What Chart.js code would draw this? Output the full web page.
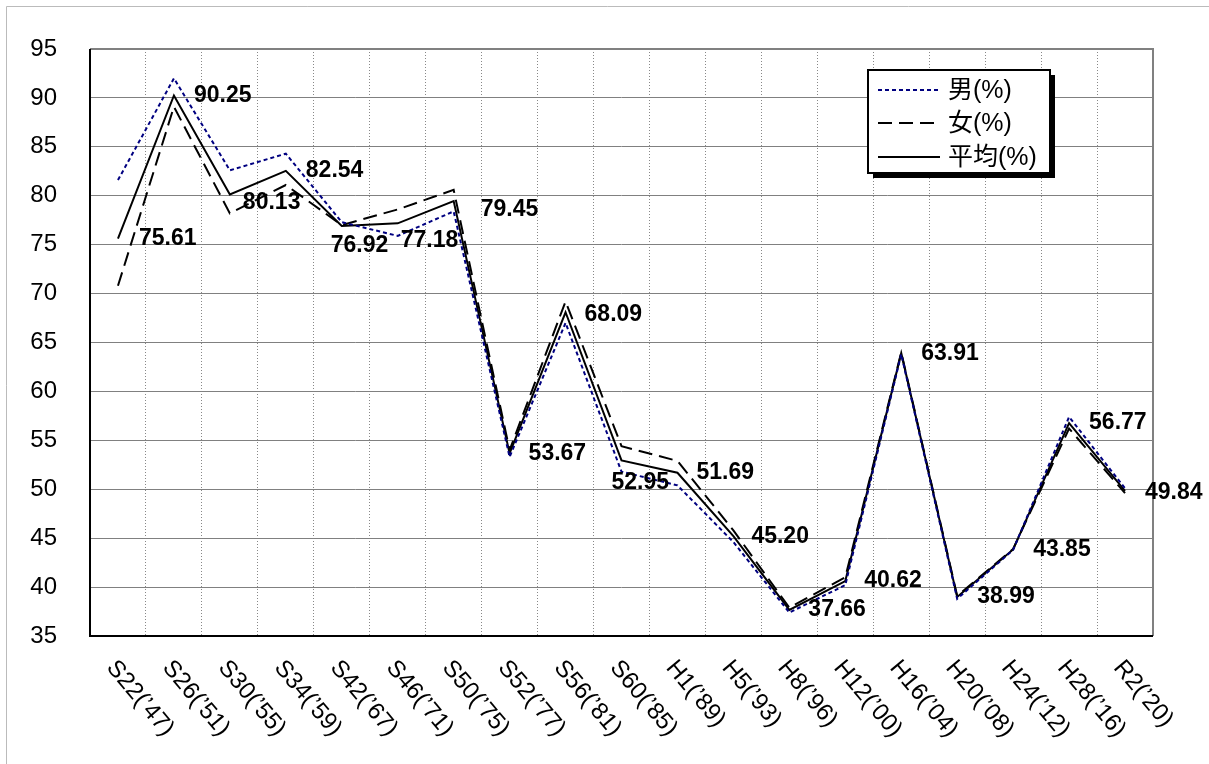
<!DOCTYPE html>
<html><head><meta charset="utf-8">
<script src="https://cdn.jsdelivr.net/npm/chart.js@4.4.0/dist/chart.umd.min.js"></script>
<style>html,body{margin:0;padding:0;background:#fff;}#wrap{width:1209px;height:764px;position:relative;}</style>
</head><body><div id="wrap"><canvas id="c" width="1209" height="764"></canvas></div>
<script>
const categories = ["S22(’47)","S26(’51)","S30(’55)","S34(’59)","S42(’67)","S46(’71)","S50(’75)","S52(’77)","S56(’81)","S60(’85)","H1(’89)","H5(’93)","H8(’96)","H12(’00)","H16(’04)","H20(’08)","H24(’12)","H28(’16)","R2(’20)"];
const maleValues = [81.6, 92.0, 82.6, 84.3, 77.3, 75.9, 78.4, 53.3, 67.0, 51.8, 50.4, 44.6, 37.4, 40.2, 63.8, 38.8, 43.8, 57.4, 50.1];
const femaleValues = [70.8, 89.1, 78.2, 81.1, 77.0, 78.6, 80.6, 54.0, 69.2, 54.4, 52.9, 45.8, 37.9, 41.0, 64.0, 39.1, 43.9, 56.2, 49.6];
const averageValues = [75.61, 90.25, 80.13, 82.54, 76.92, 77.18, 79.45, 53.67, 68.09, 52.95, 51.69, 45.20, 37.66, 40.62, 63.91, 38.99, 43.85, 56.77, 49.84];
const seriesNames = ["男(%)", "女(%)", "平均(%)"];
const yMin = 35, yMax = 95, yStep = 5;

const FONT = '"Liberation Sans", "Noto Sans CJK JP", sans-serif';
const dashes = [[4,3],[14,7],[]];
const colors = ['#000080','#000000','#000000'];
// label offsets relative to each average point (style)
const labelOffsets = [[21,0],[20,0],[13,8],[20,0],[-11,20],[3,17],[27,9],[19,0],[19,2],[-10,22],[19,0],[18,0],[19,0],[19,0],[20,0],[20,0],[20,0],[20,0],[20,2]];

const decor = {
  id: 'decor',
  beforeDatasetsDraw(chart) {
    const {ctx, chartArea: a} = chart;
    ctx.save();
    ctx.lineWidth = 2;
    ctx.strokeStyle = '#808080';
    ctx.beginPath();
    ctx.moveTo(a.left, a.top); ctx.lineTo(a.right, a.top); ctx.lineTo(a.right, a.bottom);
    ctx.stroke();
    ctx.strokeStyle = '#000';
    ctx.beginPath();
    ctx.moveTo(a.left, a.top); ctx.lineTo(a.left, a.bottom); ctx.lineTo(a.right, a.bottom);
    ctx.stroke();
    ctx.restore();
  },
  afterDraw(chart) {
    const {ctx, chartArea: a} = chart;
    const xs = chart.scales.x;
    ctx.save();
    // outer border
    ctx.strokeStyle = '#bbbbbb'; ctx.lineWidth = 1;
    ctx.beginPath(); ctx.moveTo(6.5, 764); ctx.lineTo(6.5, 6.5); ctx.lineTo(1209, 6.5); ctx.stroke();
    // x labels rotated clockwise
    ctx.fillStyle = '#000';
    ctx.font = '24px ' + FONT;
    ctx.textAlign = 'left'; ctx.textBaseline = 'top';
    categories.forEach((c, i) => {
      const x = xs.getPixelForValue(i);
      ctx.save();
      ctx.translate(x + 2, a.bottom + 20);
      ctx.rotate(50 * Math.PI / 180);
      ctx.fillText(c, 0, 0);
      ctx.restore();
    });
    // data labels
    const meta = chart.getDatasetMeta(2);
    ctx.font = 'bold 23px ' + FONT;
    ctx.textBaseline = 'middle';
    meta.data.forEach((p, i) => {
      const o = labelOffsets[i];
      ctx.fillText(averageValues[i].toFixed(2), p.x + o[0], p.y + o[1]);
    });
    // legend
    const bx = 868, by = 70, bw = 182, bh = 103;
    ctx.fillStyle = '#000';
    ctx.fillRect(bx + 5, by + 5, bw, bh);
    ctx.fillStyle = '#fff';
    ctx.fillRect(bx, by, bw, bh);
    ctx.strokeStyle = '#000'; ctx.lineWidth = 2;
    ctx.strokeRect(bx, by, bw, bh);
    ctx.font = '25px ' + FONT;
    ctx.textBaseline = 'middle';
    const rows = [90, 123, 157];
    seriesNames.forEach((n, i) => {
      ctx.save();
      ctx.strokeStyle = colors[i]; ctx.lineWidth = 2; ctx.setLineDash(dashes[i]);
      ctx.beginPath(); ctx.moveTo(878, rows[i]); ctx.lineTo(940, rows[i]); ctx.stroke();
      ctx.restore();
      ctx.fillStyle = '#000';
      ctx.fillText(n, 948, rows[i] + 1);
    });
    ctx.restore();
  }
};

new Chart(document.getElementById('c'), {
  type: 'line',
  data: {
    labels: categories,
    datasets: [
      {label: seriesNames[0], data: maleValues, borderColor: colors[0], borderWidth: 2, borderDash: dashes[0], pointRadius: 0, fill: false, tension: 0},
      {label: seriesNames[1], data: femaleValues, borderColor: colors[1], borderWidth: 2, borderDash: dashes[1], pointRadius: 0, fill: false, tension: 0},
      {label: seriesNames[2], data: averageValues, borderColor: colors[2], borderWidth: 2, pointRadius: 0, fill: false, tension: 0}
    ]
  },
  options: {
    responsive: false, animation: false, devicePixelRatio: 1,
    layout: {padding: {left: 0, top: 49, right: 56, bottom: 0}},
    plugins: {legend: {display: false}, tooltip: {enabled: false}},
    scales: {
      x: {
        offset: true,
        grid: {offset: true, color: '#888', lineWidth: 1, drawTicks: false},
        border: {display: false, dash: [1,2]},
        ticks: {display: false},
        afterFit(s) { s.height = 128; }
      },
      y: {
        min: yMin, max: yMax,
        grid: {color: '#808080', lineWidth: 1, drawTicks: false},
        border: {display: false},
        ticks: {stepSize: yStep, color: '#000', padding: 33, font: {family: FONT, size: 24}},
        afterFit(s) { s.width = 90; }
      }
    }
  },
  plugins: [decor]
});
</script></body></html>
